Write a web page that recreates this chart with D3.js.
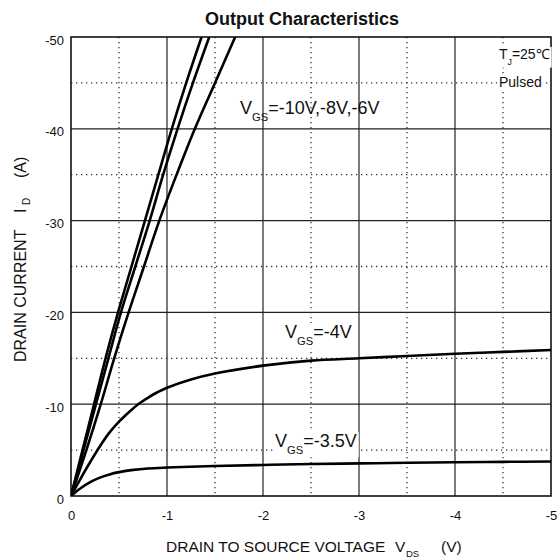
<!DOCTYPE html>
<html>
<head>
<meta charset="utf-8">
<script src="https://cdn.jsdelivr.net/npm/d3@7"></script>
<style>
  body { margin: 0; background: #fff; }
  text { font-family: "Liberation Sans", Arial, sans-serif; fill: #111; }
</style>
</head>
<body>
<div id="chart"></div>
<script>
// Output characteristics
const xTicks = [0, -1, -2, -3, -4, -5];
const yTicks = [0, -10, -20, -30, -40, -50];

// V_GS = -10V
const vds10 = [0, -0.12, -0.24, -0.36, -0.49, -0.63, -0.77, -0.91, -1.05, -1.2, -1.36];
const id10  = [0, -5, -10, -15, -20, -25, -30, -35, -40, -45, -50];
// V_GS = -8V
const vds8 = [0, -0.13, -0.26, -0.39, -0.52, -0.67, -0.82, -0.96, -1.11, -1.27, -1.44];
const id8  = [0, -5, -10, -15, -20, -25, -30, -35, -40, -45, -50];
// V_GS = -6V
const vds6 = [0, -0.16, -0.31, -0.45, -0.60, -0.76, -0.92, -1.1, -1.29, -1.5, -1.71];
const id6  = [0, -5, -10, -15, -20, -25, -30, -35, -40, -45, -50];
// V_GS = -4V
const vds4 = [0, -0.1, -0.2, -0.3, -0.4, -0.5, -0.6, -0.7, -0.8, -0.9, -1, -1.25, -1.5, -2, -2.5, -3, -3.5, -4, -4.5, -5];
const id4  = [0, -1.9, -3.7, -5.4, -6.9, -8.1, -9.1, -10.0, -10.7, -11.3, -11.8, -12.7, -13.35, -14.2, -14.75, -15.0, -15.25, -15.5, -15.7, -15.9];
// V_GS = -3.5V
const vds35 = [0, -0.05, -0.1, -0.2, -0.3, -0.4, -0.5, -0.65, -0.8, -1, -1.5, -2, -2.5, -3, -3.5, -4, -4.5, -5];
const id35  = [0, -0.45, -0.85, -1.5, -2.0, -2.35, -2.6, -2.85, -3.0, -3.1, -3.27, -3.38, -3.48, -3.55, -3.62, -3.68, -3.72, -3.76];

const series = [[vds10, id10], [vds8, id8], [vds6, id6], [vds4, id4], [vds35, id35]];

const W = 560, H = 560;
const pl = 71, pr = 551, pt = 37, pb = 496;

const svg = d3.select("#chart").append("svg")
    .attr("width", W)
    .attr("height", H);

const x = d3.scaleLinear().domain([0, -5]).range([pl, pr]);
const y = d3.scaleLinear().domain([0, -50]).range([pb, pt]);

// dotted half grid
const minorX = [-0.5, -1.5, -2.5, -3.5, -4.5];
const minorY = [-5, -15, -25, -35, -45];
const grid = svg.append("g");
grid.selectAll(".mx").data(minorX).enter().append("line")
    .attr("x1", d => x(d)).attr("x2", d => x(d))
    .attr("y1", pt).attr("y2", pb)
    .attr("stroke", "#333").attr("stroke-width", 1.3).attr("stroke-dasharray", "1.3,3.7");
grid.selectAll(".my").data(minorY).enter().append("line")
    .attr("x1", pl).attr("x2", pr)
    .attr("y1", d => y(d)).attr("y2", d => y(d))
    .attr("stroke", "#333").attr("stroke-width", 1.3).attr("stroke-dasharray", "1.3,3.7");

// solid grid
grid.selectAll(".gx").data(xTicks.slice(1, -1)).enter().append("line")
    .attr("x1", d => x(d)).attr("x2", d => x(d))
    .attr("y1", pt).attr("y2", pb)
    .attr("stroke", "#222").attr("stroke-width", 1.2);
grid.selectAll(".gy").data(yTicks.slice(1, -1)).enter().append("line")
    .attr("x1", pl).attr("x2", pr)
    .attr("y1", d => y(d)).attr("y2", d => y(d))
    .attr("stroke", "#222").attr("stroke-width", 1.2);

// frame
svg.append("rect")
    .attr("x", pl).attr("y", pt)
    .attr("width", pr - pl).attr("height", pb - pt)
    .attr("fill", "none").attr("stroke", "#111").attr("stroke-width", 1.6);

// axes (labels only)
const xAxis = svg.append("g")
    .attr("transform", `translate(0,${pb})`)
    .call(d3.axisBottom(x).tickValues(xTicks).tickSize(0).tickPadding(15).tickFormat(d => String(d)));
const yAxis = svg.append("g")
    .attr("transform", `translate(${pl},0)`)
    .call(d3.axisLeft(y).tickValues(yTicks).tickSize(0).tickPadding(7).tickFormat(d => String(d)));
[xAxis, yAxis].forEach(a => {
    a.select(".domain").remove();
    a.selectAll("text").style("font-size", "13px").attr("font-family", "Liberation Sans, Arial, sans-serif").attr("fill", "#111");
});
yAxis.selectAll("text").attr("dy", "0.55em");

// curves
const line = d3.line()
    .x(d => x(d[0]))
    .y(d => y(d[1]))
    .curve(d3.curveCatmullRom.alpha(0.5));

svg.append("clipPath").attr("id", "plot")
    .append("rect").attr("x", pl).attr("y", pt)
    .attr("width", pr - pl).attr("height", pb - pt);

svg.append("g").attr("clip-path", "url(#plot)")
    .selectAll("path").data(series).enter().append("path")
    .attr("d", s => line(s[0].map((v, i) => [v, s[1][i]])))
    .attr("fill", "none").attr("stroke", "#000").attr("stroke-width", 2.6);

// annotation with optional white backdrop
function label(px, py, main, sub, rest, size, backdrop) {
    const g = svg.append("g");
    const t = g.append("text").attr("x", px).attr("y", py).style("font-size", size + "px");
    t.append("tspan").text(main);
    t.append("tspan").attr("dy", size * 0.4).style("font-size", (size * 0.62) + "px").text(sub);
    t.append("tspan").attr("dy", -size * 0.4).text(rest);
    if (backdrop) {
        const b = t.node().getBBox();
        g.insert("rect", "text")
            .attr("x", b.x - 2).attr("y", b.y + 1)
            .attr("width", b.width + 4).attr("height", b.height)
            .attr("fill", "#fff");
    }
}

label(240, 114, "V", "GS", "=-10V,-8V,-6V", 18, false);
label(285, 338, "V", "GS", "=-4V", 18, true);
label(275, 447, "V", "GS", "=-3.5V", 18, true);
label(499, 59, "T", "J", "=25℃", 14, true);

svg.append("text").attr("x", 499).attr("y", 87).style("font-size", "14px").text("Pulsed")
    .each(function () {
        const b = this.getBBox();
        svg.insert("rect", () => this)
            .attr("x", b.x - 2).attr("y", b.y + 1).attr("width", b.width + 4).attr("height", b.height - 1)
            .attr("fill", "#fff");
    });

// title
svg.append("text")
    .attr("x", 302).attr("y", 25)
    .attr("text-anchor", "middle")
    .style("font-size", "18px").style("font-weight", "bold")
    .text("Output Characteristics");

// x axis title
const xt = svg.append("g").style("font-size", "15.5px");
xt.append("text").attr("x", 166).attr("y", 552).text("DRAIN TO SOURCE VOLTAGE");
xt.append("text").attr("x", 395).attr("y", 552).text("V");
xt.append("text").attr("x", 406).attr("y", 557).style("font-size", "9.5px").text("DS");
xt.append("text").attr("x", 441).attr("y", 552).text("(V)");

// y axis title
const yt = svg.append("g").attr("transform", "translate(26,0) rotate(-90)").style("font-size", "16px");
yt.append("text").attr("x", -362).attr("y", 0).text("DRAIN CURRENT");
yt.append("text").attr("x", -213).attr("y", 0).text("I");
yt.append("text").attr("x", -205).attr("y", 4).style("font-size", "10px").text("D");
yt.append("text").attr("x", -178).attr("y", 0).text("(A)");
</script>
</body>
</html>
